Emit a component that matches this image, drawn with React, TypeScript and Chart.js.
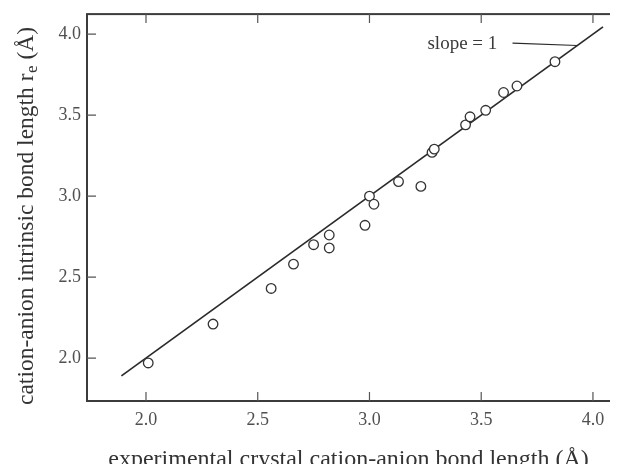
import React, { useEffect, useRef } from "react";
import { Chart, registerables } from "chart.js";

Chart.register(...registerables);

// ---- data ----
const X_EXPERIMENTAL = [2.01, 2.30, 2.56, 2.66, 2.75, 2.82, 2.82, 2.98, 3.00, 3.02, 3.13, 3.23, 3.28, 3.29, 3.43, 3.45, 3.52, 3.60, 3.66, 3.83];
const Y_INTRINSIC = [1.97, 2.21, 2.43, 2.58, 2.70, 2.68, 2.76, 2.82, 3.00, 2.95, 3.09, 3.06, 3.27, 3.29, 3.44, 3.49, 3.53, 3.64, 3.68, 3.83];
const SLOPE_LINE_X = [1.89, 4.045];
const SLOPE_LINE_Y = [1.89, 4.045];
const LEADER_X = [3.64, 3.93];
const LEADER_Y = [3.945, 3.93];
const X_TICKS = [2.0, 2.5, 3.0, 3.5, 4.0];
const Y_TICKS = [2.0, 2.5, 3.0, 3.5, 4.0];
const X_RANGE = [1.736, 4.13];
const Y_RANGE = [1.735, 4.124];
const ANNOTATION_TEXT = "slope = 1";
const ANNOTATION_POS = { x: 3.572, y: 3.906 };
const X_TITLE = "experimental crystal cation-anion bond length (Å)";
const Y_TITLE_MAIN = "cation-anion intrinsic bond length r";
const Y_TITLE_SUB = "e";
const Y_TITLE_END = " (Å)";

const FONT = '"Liberation Serif", "Times New Roman", serif';
const INK = "#333333";

export default function App() {
  const ref = useRef<HTMLCanvasElement>(null);

  useEffect(() => {
    const canvas = ref.current;
    if (!canvas) return;

    const framePlugin = {
      id: "frame",
      afterDraw(chart: any) {
        const { ctx, chartArea } = chart;
        const { left, right, top, bottom } = chartArea;
        const xs = chart.scales.x;
        const ys = chart.scales.y;
        ctx.save();
        ctx.strokeStyle = "#3c3c3c";
        ctx.lineWidth = 2;
        ctx.strokeRect(left, top, right - left, bottom - top);
        ctx.lineWidth = 1.2;
        ctx.strokeStyle = "#555555";
        const L = 9;
        ctx.beginPath();
        X_TICKS.forEach((v) => {
          const p = xs.getPixelForValue(v);
          ctx.moveTo(p, bottom);
          ctx.lineTo(p, bottom - L);
          ctx.moveTo(p, top);
          ctx.lineTo(p, top + L);
        });
        Y_TICKS.forEach((v) => {
          const p = ys.getPixelForValue(v);
          ctx.moveTo(left, p);
          ctx.lineTo(left + L, p);
          ctx.moveTo(right, p);
          ctx.lineTo(right - L, p);
        });
        ctx.stroke();

        // annotation
        ctx.fillStyle = "#3a3a3a";
        ctx.font = `19px ${FONT}`;
        ctx.textAlign = "right";
        ctx.textBaseline = "alphabetic";
        ctx.fillText(
          ANNOTATION_TEXT,
          xs.getPixelForValue(ANNOTATION_POS.x),
          ys.getPixelForValue(ANNOTATION_POS.y)
        );

        // x axis title
        ctx.fillStyle = "#333333";
        ctx.font = `24px ${FONT}`;
        ctx.textAlign = "center";
        ctx.fillText(X_TITLE, (left + right) / 2 - 6, chart.height - 6);

        // y axis title (rotated, with subscript)
        ctx.save();
        ctx.translate(25, bottom + 4);
        ctx.rotate(-Math.PI / 2);
        ctx.textAlign = "left";
        ctx.font = `23.5px ${FONT}`;
        ctx.fillText(Y_TITLE_MAIN, 0, 0);
        let w = ctx.measureText(Y_TITLE_MAIN).width;
        ctx.font = `17px ${FONT}`;
        ctx.fillText(Y_TITLE_SUB, w + 0.5, 4);
        w += ctx.measureText(Y_TITLE_SUB).width + 0.5;
        ctx.font = `23.5px ${FONT}`;
        ctx.fillText(Y_TITLE_END, w, 0);
        ctx.restore();

        ctx.restore();
      },
    };

    const chart = new Chart(canvas, {
      type: "scatter",
      data: {
        datasets: [
          {
            label: "points",
            data: X_EXPERIMENTAL.map((x, i) => ({ x, y: Y_INTRINSIC[i] })),
            pointStyle: "circle",
            pointRadius: 4.8,
            pointBorderWidth: 1.3,
            borderColor: INK,
            backgroundColor: "#ffffff",
            showLine: false,
            order: 0,
          },
          {
            label: "slope",
            data: SLOPE_LINE_X.map((x, i) => ({ x, y: SLOPE_LINE_Y[i] })),
            showLine: true,
            borderColor: "#2a2a2a",
            borderWidth: 1.7,
            pointRadius: 0,
            order: 1,
          },
          {
            label: "leader",
            data: LEADER_X.map((x, i) => ({ x, y: LEADER_Y[i] })),
            showLine: true,
            borderColor: "#2a2a2a",
            borderWidth: 1.2,
            pointRadius: 0,
            order: 2,
          },
        ],
      },
      options: {
        animation: false,
        responsive: false,
        layout: { padding: { left: 0, top: 5, right: 11, bottom: 0 } },
        plugins: { legend: { display: false }, tooltip: { enabled: false } },
        scales: {
          x: {
            type: "linear",
            min: X_RANGE[0],
            max: X_RANGE[1],
            grid: { display: false, drawTicks: false },
            border: { display: false },
            afterBuildTicks: (s: any) => {
              s.ticks = X_TICKS.map((v) => ({ value: v }));
            },
            afterFit: (s: any) => {
              s.height = 71;
              s.paddingLeft = 0;
              s.paddingRight = 0;
            },
            ticks: {
              padding: 8,
              color: "#505050",
              font: { family: FONT, size: 18 },
              maxRotation: 0,
              callback: (v: any) => Number(v).toFixed(1),
            },
            title: { display: false },
          },
          y: {
            type: "linear",
            min: Y_RANGE[0],
            max: Y_RANGE[1],
            grid: { display: false, drawTicks: false },
            border: { display: false },
            afterBuildTicks: (s: any) => {
              s.ticks = Y_TICKS.map((v) => ({ value: v }));
            },
            afterFit: (s: any) => {
              s.width = 79;
              s.paddingTop = 0;
              s.paddingBottom = 0;
            },
            ticks: {
              padding: 6,
              color: "#505050",
              font: { family: FONT, size: 18 },
              callback: (v: any) => Number(v).toFixed(1),
            },
            title: { display: false },
          },
        },
      },
      plugins: [framePlugin],
    });

    return () => chart.destroy();
  }, []);

  return (
    <div style={{ width: 610, height: 464, overflow: "hidden", marginBottom: -8 }}>
      <canvas ref={ref} width={625} height={464} style={{ display: "block" }} />
    </div>
  );
}
